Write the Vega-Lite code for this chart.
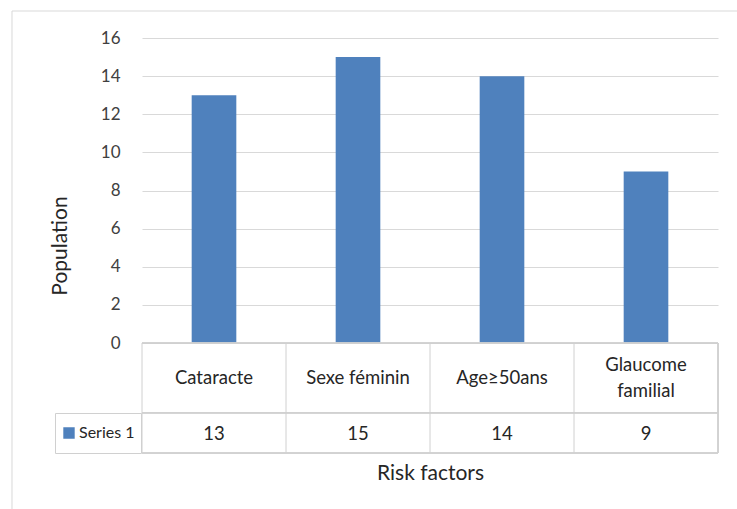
{
  "$schema": "https://vega.github.io/schema/vega-lite/v6.json",
  "autosize": "none",
  "width": 576,
  "height": 415,
  "padding": {"left": 142, "top": 38, "right": 19, "bottom": 56},
  "background": "white",
  "config": {
    "font": "Lato",
    "view": {"stroke": null},
    "axis": {"labelColor": "#404040", "titleColor": "#262626", "titleFontWeight": "normal"}
  },
  "data": {
    "values": [
      {"risk": "Cataracte", "population": 13, "series": "Series 1"},
      {"risk": "Sexe féminin", "population": 15, "series": "Series 1"},
      {"risk": "Age≥50ans", "population": 14, "series": "Series 1"},
      {"risk": "Glaucome familial", "population": 9, "series": "Series 1"}
    ]
  },
  "resolve": {"scale": {"x": "independent"}, "axis": {"x": "independent"}},
  "layer": [
    {
      "encoding": {
        "x": {
          "field": "risk", "type": "nominal", "sort": null,
          "scale": {"paddingInner": 0, "paddingOuter": 0},
          "axis": {"title": "Risk factors", "labels": false, "ticks": false, "domain": false, "grid": false, "titleFontSize": 21, "titlePadding": 9}
        }
      },
      "layer": [
        {
          "mark": {"type": "bar", "width": {"band": 0.31}, "color": "#4f81bd"},
          "encoding": {
            "y": {
              "field": "population", "type": "quantitative",
              "scale": {"domain": [-5.77, 16], "nice": false, "zero": false},
              "axis": {"title": "Population", "values": [0, 2, 4, 6, 8, 10, 12, 14, 16], "grid": true, "gridColor": "#d9d9d9", "domain": false, "ticks": false, "labelFontSize": 17, "labelPadding": 22, "titleFontSize": 21, "titlePadding": 30}
            },
            "color": {
              "field": "series", "type": "nominal",
              "scale": {"range": ["#4f81bd"]},
              "legend": {"orient": "none", "legendX": -87, "legendY": 375, "title": null, "symbolType": "square", "symbolSize": 130, "symbolStrokeWidth": 0, "labelFontSize": 16, "labelColor": "#262626", "padding": 6, "clipHeight": 28, "strokeColor": "#d0d0d0", "labelOffset": 2}
            }
          }
        },
        {
          "mark": {"type": "rule", "color": "#d0d0d0"},
          "encoding": {"x": {"field": "risk", "type": "nominal", "bandPosition": 0}, "y": {"datum": 0}, "y2": {"datum": -5.77}}
        },
        {
          "mark": {"type": "rule", "color": "#d0d0d0"},
          "encoding": {"x": {"datum": "Glaucome familial", "bandPosition": 1}, "y": {"datum": 0}, "y2": {"datum": -5.77}}
        },
        {
          "mark": {"type": "rule", "color": "#d0d0d0"},
          "encoding": {"x": null, "y": {"datum": 0}}
        },
        {
          "mark": {"type": "rule", "color": "#d0d0d0"},
          "encoding": {"x": null, "y": {"datum": -3.67}}
        },
        {
          "mark": {"type": "rule", "color": "#d0d0d0"},
          "encoding": {"x": null, "y": {"datum": -5.77}}
        },
        {
          "transform": [{"filter": "datum.risk != 'Glaucome familial'"}],
          "mark": {"type": "text", "fontSize": 18.5, "baseline": "middle", "color": "#262626"},
          "encoding": {"y": {"datum": -1.84}, "text": {"field": "risk"}}
        },
        {
          "transform": [{"filter": "datum.risk == 'Glaucome familial'"}, {"calculate": "['Glaucome', 'familial']", "as": "label"}],
          "mark": {"type": "text", "fontSize": 18.5, "lineHeight": 26, "baseline": "middle", "dy": -13, "color": "#262626"},
          "encoding": {"y": {"datum": -1.84}, "text": {"field": "label"}}
        },
        {
          "mark": {"type": "text", "fontSize": 18.5, "baseline": "middle", "color": "#262626"},
          "encoding": {"y": {"datum": -4.77}, "text": {"field": "population", "type": "quantitative"}}
        }
      ]
    },
    {
      "data": {"values": [{}]},
      "mark": {"type": "rule", "color": "#d9d9d9"},
      "encoding": {
        "x": {"datum": -0.2257, "type": "quantitative", "scale": {"domain": [0, 1], "nice": false, "zero": false}, "axis": null},
        "x2": {"datum": 1.1},
        "y": {"datum": 17.416, "type": "quantitative"}
      }
    },
    {
      "data": {"values": [{}]},
      "mark": {"type": "rule", "color": "#d9d9d9"},
      "encoding": {
        "x": {"datum": -0.2257, "type": "quantitative", "scale": {"domain": [0, 1], "nice": false, "zero": false}, "axis": null},
        "y": {"datum": 17.416, "type": "quantitative"},
        "y2": {"datum": -9.5}
      }
    }
  ]
}
